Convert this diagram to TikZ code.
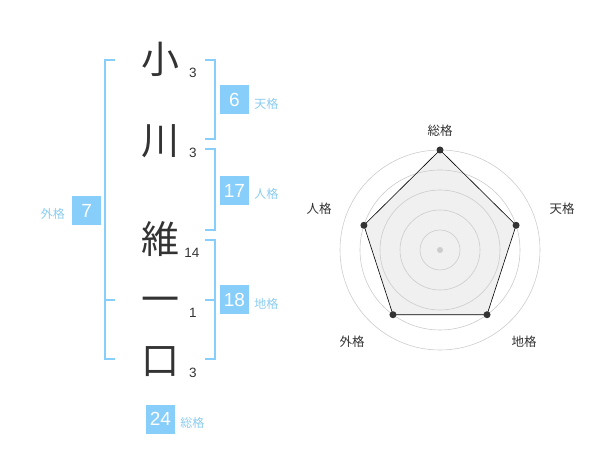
\documentclass[tikz,border=0pt]{standalone}
\usepackage{xcolor}
\usepackage{fontspec}
\setmainfont{Liberation Sans}
\newfontfamily\jpfont{Noto Sans CJK JP}
\usetikzlibrary{positioning}

\definecolor{kakublue}{HTML}{87CEFA}
\definecolor{kakutext}{HTML}{8ACCF0}
\definecolor{inkgray}{HTML}{333333}
\definecolor{ringgray}{HTML}{CCCCCC}
\definecolor{areagray}{HTML}{F0F0F0}

\begin{document}
\begin{tikzpicture}[x=1pt, y=-1pt,
    kanji/.style={font=\jpfont\fontsize{38}{38}\selectfont, text=inkgray, inner sep=0pt, anchor=base},
    strokes/.style={font=\fontsize{13.5}{13.5}\selectfont, text=inkgray, inner sep=0pt},
    kakubox/.style={fill=kakublue, text=white, minimum width=29pt, minimum height=29pt, inner sep=0pt, font=\fontsize{19}{19}\selectfont},
    kakuname/.style={font=\jpfont\fontsize{12}{12}\selectfont, text=kakutext, inner sep=0pt},
    bracket/.style={draw=kakublue, line width=2pt},
    ring/.style={draw=ringgray, line width=0.6pt},
    axlabel/.style={font=\jpfont\fontsize{12.5}{12.5}\selectfont, text=inkgray, inner sep=0pt},
    vertex/.style={circle, fill=inkgray, inner sep=0pt, minimum size=7pt}]
    \useasboundingbox (0,0) rectangle (600,470);

    % name
    \node[kanji] (k1) at (160,74) {小};
    \node[kanji] (k2) at (160,155) {川};
    \node[kanji] (k3) at (160,254) {維};
    \node[kanji] (k4) at (160,314) {一};
    \node[kanji] (k5) at (160,375) {口};
    \node[strokes] (s1) at (193,73) {3};
    \node[strokes] (s2) at (193,153) {3};
    \node[strokes] (s3) at (192,253) {14};
    \node[strokes] (s4) at (193,313) {1};
    \node[strokes] (s5) at (193,373) {3};

    % brackets
    \draw[bracket] (205,60) -- (215,60) -- (215,139) -- (205,139);
    \draw[bracket] (205,149) -- (215,149) -- (215,230) -- (205,230);
    \draw[bracket] (205,240) -- (215,240) -- (215,359) -- (205,359);
    \draw[bracket] (205,300) -- (215,300);
    \draw[bracket] (115,60) -- (105,60) -- (105,359) -- (115,359);
    \draw[bracket] (105,300) -- (115,300);

    % kaku numbers
    \node[kakubox] (ten) at (234.5,100) {6};
    \node[kakuname, right=5pt of ten, yshift=-3.5pt] (tenname) {天格};
    \node[kakubox] (jin) at (234.5,190.5) {17};
    \node[kakuname, right=5pt of jin, yshift=-3.5pt] (jinname) {人格};
    \node[kakubox] (chi) at (234.5,300) {18};
    \node[kakuname, right=5pt of chi, yshift=-3.5pt] (chiname) {地格};
    \node[kakubox] (gai) at (86.7,210.5) {7};
    \node[kakuname, left=7pt of gai, yshift=-3.5pt] (gainame) {外格};
    \node[kakubox] (sou) at (160.5,419) {24};
    \node[kakuname, right=5pt of sou, yshift=-3.5pt] (souname) {総格};

    % radar
    \begin{scope}[shift={(440,250)}, y=1pt]
        \coordinate (c) at (0,0);
        \coordinate (psou) at (90:100);
        \coordinate (pten) at (18:80);
        \coordinate (pchi) at (-54:80);
        \coordinate (pgai) at (-126:80);
        \coordinate (pjin) at (162:80);
        \fill[areagray] (psou) -- (pten) -- (pchi) -- (pgai) -- (pjin) -- cycle;
        \foreach \r in {20,40,60,80,100}
            \draw[ring] (c) circle (\r);
        \draw[black, line width=0.6pt] (psou) -- (pten) -- (pchi) -- (pgai) -- (pjin) -- cycle;
        \fill[ringgray] (c) circle (3);
        \foreach \p in {psou,pten,pchi,pgai,pjin}
            \node[vertex] at (\p) {};
        \node[axlabel] (lsou) at (0,119.5) {総格};
        \node[axlabel] (lten) at (122,41) {天格};
        \node[axlabel] (lchi) at (84,-92) {地格};
        \node[axlabel] (lgai) at (-88,-92) {外格};
        \node[axlabel] (ljin) at (-121,41) {人格};
    \end{scope}
\end{tikzpicture}
\end{document}
